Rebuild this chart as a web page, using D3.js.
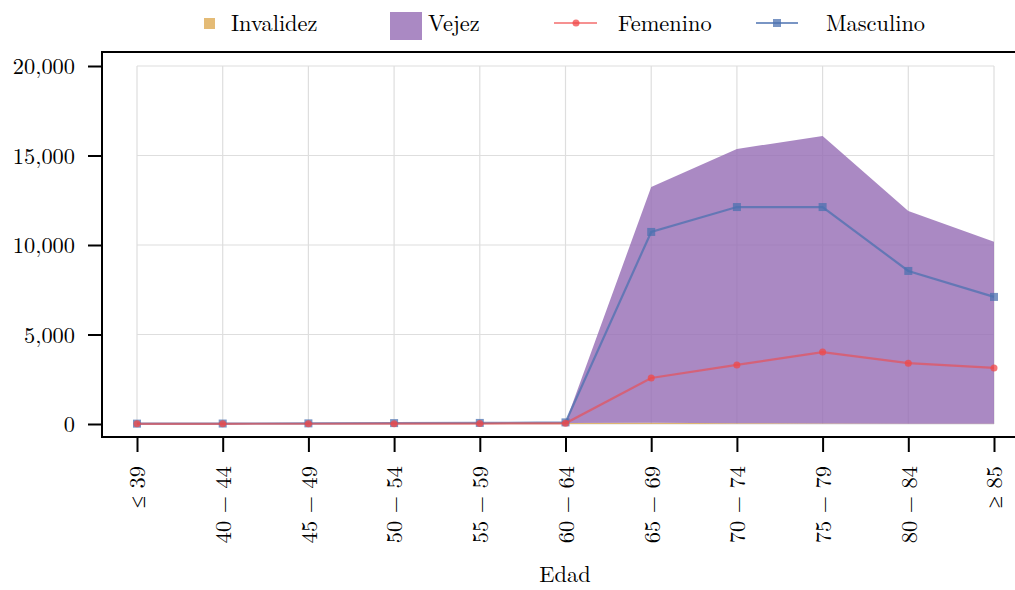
<!DOCTYPE html>
<html><head><meta charset="utf-8">
<script src="https://cdn.jsdelivr.net/npm/d3@7"></script>
<style>
html,body{margin:0;padding:0;background:#fff;}
svg{display:block;font-family:"Latin Modern Roman","Liberation Serif",serif;}
</style></head>
<body><svg id="c" width="1015" height="590"></svg>
<script>
const categories = ["≤ 39","40 − 44","45 − 49","50 − 54","55 − 59","60 − 64","65 − 69","70 − 74","75 − 79","80 − 84","≥ 85"];
const invalidez = [5, 8, 12, 20, 35, 60, 70, 45, 25, 15, 10];
const vejez = [0, 0, 0, 0, 0, 10, 13170, 15320, 16070, 11880, 10170];
const femenino = [10, 12, 15, 20, 25, 40, 2570, 3300, 4020, 3400, 3130];
const masculino = [20, 25, 35, 50, 60, 90, 10730, 12120, 12120, 8550, 7100];
const yTicks = [0, 5000, 10000, 15000, 20000];

const FONT = "Latin Modern Roman";
const svg = d3.select("#c");
const FS = 22.4;
const x = d3.scalePoint().domain(categories).range([137, 994]);
const y = d3.scaleLinear().domain([0, 20000]).range([424, 66]);

// grid
const grid = svg.append("g").attr("stroke", "#dedede").attr("stroke-width", 1.2);
categories.forEach(c => grid.append("line").attr("x1", x(c)).attr("x2", x(c)).attr("y1", y(0)).attr("y2", y(20000)));
yTicks.forEach(t => grid.append("line").attr("x1", x(categories[0])).attr("x2", x(categories[categories.length-1])).attr("y1", y(t)).attr("y2", y(t)));

// stacked areas
const rows = categories.map((c, i) => ({cat: c, invalidez: invalidez[i], vejez: vejez[i]}));
const stack = d3.stack().keys(["invalidez", "vejez"])(rows);
const areaColors = {invalidez: "rgb(214,150,45)", vejez: "#956cb4"};
const areaOp = {invalidez: 0.65, vejez: 0.8};
const area = d3.area().x(d => x(d.data.cat)).y0(d => y(d[0])).y1(d => y(d[1]));
stack.forEach(s => {
  svg.append("path").attr("d", area(s)).attr("fill", areaColors[s.key]).attr("fill-opacity", areaOp[s.key]);
});

// lines
const line = d3.line().x((d, i) => x(categories[i])).y(d => y(d));
const fColor = "#f04848", mColor = "#4c72b0";
svg.append("path").attr("d", line(masculino)).attr("fill", "none").attr("stroke", mColor).attr("stroke-width", 2.2).attr("stroke-opacity", 0.75);
svg.append("g").selectAll("rect").data(masculino).join("rect")
  .attr("x", (d, i) => x(categories[i]) - 4).attr("y", d => y(d) - 4).attr("width", 8).attr("height", 8)
  .attr("fill", mColor).attr("fill-opacity", 0.75);
svg.append("path").attr("d", line(femenino)).attr("fill", "none").attr("stroke", fColor).attr("stroke-width", 2.2).attr("stroke-opacity", 0.6);
svg.append("g").selectAll("circle").data(femenino).join("circle")
  .attr("cx", (d, i) => x(categories[i])).attr("cy", d => y(d)).attr("r", 3.5)
  .attr("fill", fColor).attr("fill-opacity", 0.75);

// frame
svg.append("rect").attr("x", 102).attr("y", 52).attr("width", 1016 - 102).attr("height", 437 - 52)
  .attr("fill", "none").attr("stroke", "#000").attr("stroke-width", 2);

// y axis
const yAxis = svg.append("g").attr("transform", "translate(102,0)")
  .call(d3.axisLeft(y).tickValues(yTicks).tickSize(14).tickPadding(13).tickFormat(d3.format(",")));
yAxis.attr("font-family", FONT).attr("font-size", FS);
yAxis.select(".domain").remove();
yAxis.selectAll("line").attr("stroke", "#000").attr("stroke-width", 2);
yAxis.selectAll("text").attr("font-size", FS).attr("font-family", FONT).attr("fill", "#000").attr("dy", "0.35em");

// x axis
const xAxis = svg.append("g").attr("transform", "translate(0,437)")
  .call(d3.axisBottom(x).tickSize(15).tickPadding(0));
xAxis.attr("font-family", FONT).attr("font-size", FS);
xAxis.select(".domain").remove();
xAxis.selectAll("line").attr("stroke", "#000").attr("stroke-width", 2);
xAxis.selectAll("text")
  .attr("font-size", FS).attr("font-family", FONT).attr("fill", "#000")
  .attr("text-anchor", "end").attr("dy", "0.35em")
  .attr("transform", "translate(0,29) rotate(-90)").attr("y", 0).attr("x", 0);

svg.append("text").attr("x", 565).attr("y", 582).attr("text-anchor", "middle")
  .attr("font-family", FONT).attr("font-size", FS).text("Edad");

// legend
const lg = svg.append("g").attr("font-size", FS).attr("font-family", FONT);
lg.append("rect").attr("x", 204).attr("y", 18).attr("width", 11).attr("height", 11).attr("fill", areaColors.invalidez).attr("fill-opacity", areaOp.invalidez);
lg.append("text").attr("x", 231).attr("y", 31).text("Invalidez");
lg.append("rect").attr("x", 390).attr("y", 12).attr("width", 32).attr("height", 28).attr("fill", areaColors.vejez).attr("fill-opacity", areaOp.vejez);
lg.append("text").attr("x", 428).attr("y", 31).text("Vejez");
lg.append("line").attr("x1", 554).attr("x2", 597).attr("y1", 23).attr("y2", 23).attr("stroke", fColor).attr("stroke-width", 2.2).attr("stroke-opacity", 0.6);
lg.append("circle").attr("cx", 576).attr("cy", 23).attr("r", 3.5).attr("fill", fColor).attr("fill-opacity", 0.75);
lg.append("text").attr("x", 618).attr("y", 31).text("Femenino");
lg.append("line").attr("x1", 756).attr("x2", 798).attr("y1", 23).attr("y2", 23).attr("stroke", mColor).attr("stroke-width", 2.2).attr("stroke-opacity", 0.75);
lg.append("rect").attr("x", 773).attr("y", 19).attr("width", 8).attr("height", 8).attr("fill", mColor).attr("fill-opacity", 0.75);
lg.append("text").attr("x", 826).attr("y", 31).text("Masculino");
</script></body></html>
